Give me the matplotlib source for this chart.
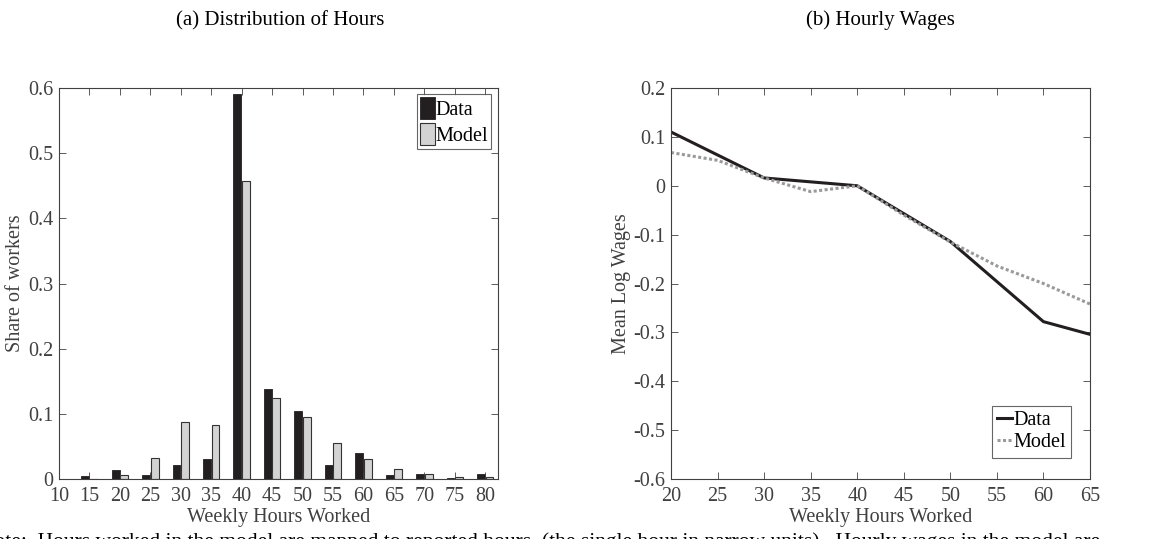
import numpy as np
import matplotlib.pyplot as plt

plt.rcParams['font.family'] = ['Liberation Serif', 'DejaVu Serif']

# (a) distribution of hours
hours = [15, 20, 25, 30, 35, 40, 45, 50, 55, 60, 65, 70, 75, 80]
share_data = [0.004, 0.014, 0.0056, 0.021, 0.031, 0.591, 0.138, 0.105,
              0.0215, 0.040, 0.0067, 0.0077, 0.002, 0.0072]
share_model = [0.0005, 0.0056, 0.033, 0.087, 0.0824, 0.458, 0.125, 0.0947,
               0.0548, 0.030, 0.0148, 0.0072, 0.003, 0.0026]

# (b) hourly wages
wage_hours = [20, 25, 30, 35, 40, 45, 50, 55, 60, 65]
wage_data = [0.110, 0.063, 0.016, 0.008, 0.0, -0.057, -0.114, -0.196, -0.278, -0.304]
wage_model = [0.068, 0.052, 0.016, -0.012, 0.0, -0.060, -0.115, -0.164, -0.200, -0.242]

txt = '#404040'
fs = 14.5

fig = plt.figure(figsize=(11.66, 5.39), dpi=100)
ax1 = fig.add_axes([0.0506, 0.1113, 0.3765, 0.7254])
ax2 = fig.add_axes([0.5755, 0.1113, 0.3593, 0.7254])

h = np.array(hours)
w = 1.3
ax1.bar(h - 0.7, share_data, width=w, color='#231f20', edgecolor='#231f20',
        linewidth=0.6, label='Data')
ax1.bar(h + 0.7, share_model, width=w, color='#d3d3d3', edgecolor='#333333',
        linewidth=0.8, label='Model')
ax1.set_xlim(10, 82.1)
ax1.set_ylim(0, 0.6)
ax1.set_xticks(range(10, 81, 5))
ax1.set_yticks([0, 0.1, 0.2, 0.3, 0.4, 0.5, 0.6])
ax1.set_yticklabels(['0', '0.1', '0.2', '0.3', '0.4', '0.5', '0.6'])
ax1.set_xlabel('Weekly Hours Worked', fontsize=fs, color=txt, labelpad=1)
ax1.set_ylabel('Share of workers', fontsize=fs, color=txt, labelpad=2)
leg1 = ax1.legend(loc='upper right', bbox_to_anchor=(0.985, 0.984), fontsize=fs,
                  handlelength=0.75, handleheight=1.3, handletextpad=0.05,
                  borderpad=0.15, borderaxespad=0.0, fancybox=False,
                  edgecolor='#404040', labelspacing=0.15)
leg1.get_frame().set_linewidth(0.8)

ax2.plot(wage_hours, wage_data, color='#231f20', linewidth=2.2, label='Data')
ax2.plot(wage_hours, wage_model, color='#9a9a9a', linewidth=2.2,
         linestyle=(0, (1, 0.8)), label='Model')
ax2.set_xlim(20, 65)
ax2.set_ylim(-0.6, 0.2)
ax2.set_xticks(range(20, 66, 5))
ax2.set_yticks([-0.6, -0.5, -0.4, -0.3, -0.2, -0.1, 0, 0.1, 0.2])
ax2.set_yticklabels(['-0.6', '-0.5', '-0.4', '-0.3', '-0.2', '-0.1', '0', '0.1', '0.2'])
ax2.set_xlabel('Weekly Hours Worked', fontsize=fs, color=txt, labelpad=1)
ax2.set_ylabel('Mean Log Wages', fontsize=fs, color=txt, labelpad=2)
leg2 = ax2.legend(loc='lower right', bbox_to_anchor=(0.955, 0.055), fontsize=fs,
                  handlelength=0.75, handletextpad=0.05, borderpad=0.25,
                  borderaxespad=0.0, fancybox=False, edgecolor='#404040',
                  labelspacing=0.15)
leg2.get_frame().set_linewidth(0.8)

for ax in (ax1, ax2):
    ax.tick_params(direction='in', top=True, right=True, length=5,
                   width=0.6, color='#404040', labelsize=fs, labelcolor=txt)
    ax.tick_params(axis='x', pad=6)
    ax.tick_params(axis='y', pad=4)
    for s in ax.spines.values():
        s.set_color('#404040')
        s.set_linewidth(0.8)

fig.text(0.240, 0.962, '(a) Distribution of Hours', ha='center', va='center',
         fontsize=15, color='black')
fig.text(0.755, 0.962, '(b) Hourly Wages', ha='center', va='center',
         fontsize=15, color='black')

# caption, cut off by the lower edge
fig.text(-0.018, -0.014,
         'Note:  Hours worked in the model are mapped to reported hours  (the single hour '
         'in narrow units).  Hourly wages in the model are',
         ha='left', va='baseline', fontsize=15.5, color='black')

fig.savefig('out.png', dpi=100)
